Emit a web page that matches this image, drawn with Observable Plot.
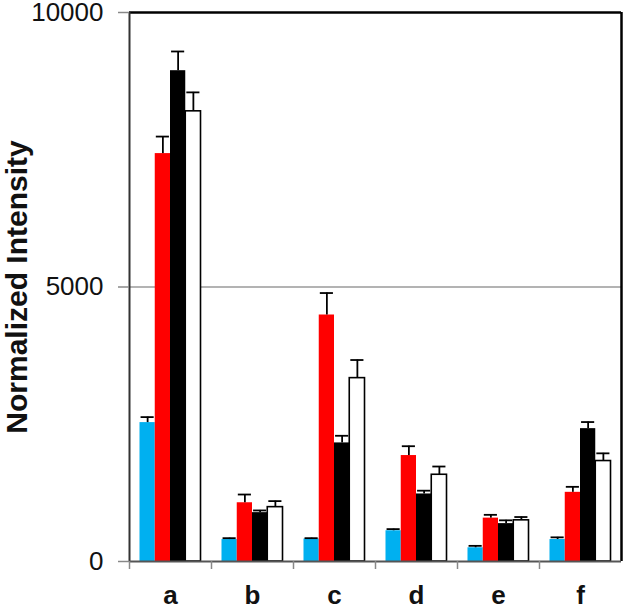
<!DOCTYPE html>
<html>
<head>
<meta charset="utf-8">
<script src="https://cdn.jsdelivr.net/npm/d3@7"></script>
<script src="https://cdn.jsdelivr.net/npm/@observablehq/plot@0.6"></script>
<style>
  html, body { margin: 0; padding: 0; background: #fff; }
  #chart svg { display: block; }
</style>
</head>
<body>
<div id="chart"></div>
<script>
// ---- data ----
const categories = ["a", "b", "c", "d", "e", "f"];
const seriesNames = ["S1", "S2", "S3", "S4"];
const s1Values = [2530, 400, 410, 560, 250, 400];
const s1Errors = [100, 25, 15, 30, 35, 40];
const s2Values = [7430, 1070, 4490, 1930, 790, 1260];
const s2Errors = [310, 150, 400, 170, 60, 100];
const s3Values = [8940, 890, 2160, 1230, 690, 2420];
const s3Errors = [350, 40, 130, 60, 60, 120];
const s4Values = [8200, 990, 3340, 1580, 750, 1830];
const s4Errors = [345, 110, 330, 150, 60, 140];
const yTicks = [0, 5000, 10000];
const yLabel = "Normalized Intensity";

// ---- styles ----
const seriesColors = ["#00B0F0", "#FF0000", "#000000", "#FFFFFF"];

// ---- table ----
const valuesBySeries = [s1Values, s2Values, s3Values, s4Values];
const errorsBySeries = [s1Errors, s2Errors, s3Errors, s4Errors];
const rows = [];
categories.forEach((cat, i) => {
  seriesNames.forEach((s, j) => {
    rows.push({cat, i, j, series: s, value: valuesBySeries[j][i], err: errorsBySeries[j][i]});
  });
});

// group layout (fractions of a category slot)
const barW = 0.186;
const groupStart = (1 - seriesNames.length * barW) / 2;
const capHalf = 0.08;
const x1 = d => d.i + groupStart + d.j * barW;
const xc = d => x1(d) + barW / 2;

const chart = Plot.plot({
  width: 625,
  height: 607,
  marginLeft: 129,
  marginRight: 4,
  marginTop: 12,
  marginBottom: 46,
  style: {fontFamily: "'Liberation Sans', Arial, sans-serif", background: "#fff", color: "#111"},
  x: {domain: [0, categories.length], axis: null},
  y: {domain: [0, 10000], axis: null},
  color: {domain: seriesNames, range: seriesColors},
  marks: [
    Plot.ruleY([5000], {stroke: "#9a9a9a", strokeWidth: 1.5}),
    Plot.rectY(rows, {x1: x1, x2: d => x1(d) + barW, y1: 0, y2: "value", fill: "series"}),
    Plot.rectY(rows.filter(d => d.j === 3), {x1: x1, x2: d => x1(d) + barW, y1: 0, y2: "value", fill: "series", stroke: "#000", strokeWidth: 1.6}),
    Plot.ruleX(rows, {x: xc, y1: "value", y2: d => d.value + d.err, stroke: "#000", strokeWidth: 1.8}),
    Plot.ruleY(rows, {y: d => d.value + d.err, x1: d => xc(d) - capHalf, x2: d => xc(d) + capHalf, stroke: "#000", strokeWidth: 1.8}),
    // frame / axes lines
    Plot.ruleY([10000], {stroke: "#000", strokeWidth: 2.5}),
    Plot.ruleX([categories.length], {stroke: "#000", strokeWidth: 2.5}),
    Plot.ruleX([0], {stroke: "#333", strokeWidth: 2}),
    Plot.ruleY([0], {stroke: "#555", strokeWidth: 2}),
    // y axis ticks + labels
    Plot.axisY({ticks: yTicks, tickFormat: d3.format("d"), tickSize: 11, tickPadding: 15, fontSize: 26, stroke: "#888", strokeWidth: 1.5, label: null}),
    // y axis title
    Plot.axisY({ticks: [5000], tickSize: 0, tickFormat: () => "", label: yLabel, labelAnchor: "center", labelOffset: 124, labelArrow: "none", fontSize: 30, fontWeight: "bold"}),
    // category boundary ticks
    Plot.axisX({ticks: d3.range(0, categories.length), tickSize: 8, tickFormat: () => "", stroke: "#888", strokeWidth: 1.5, label: null}),
    // category labels
    Plot.axisX({ticks: categories.map((c, i) => i + 0.5), tickSize: 0, tickPadding: 24, tickFormat: d => categories[Math.floor(d)], fontSize: 26, fontWeight: "bold", label: null})
  ]
});
document.getElementById("chart").appendChild(chart);
</script>
</body>
</html>
